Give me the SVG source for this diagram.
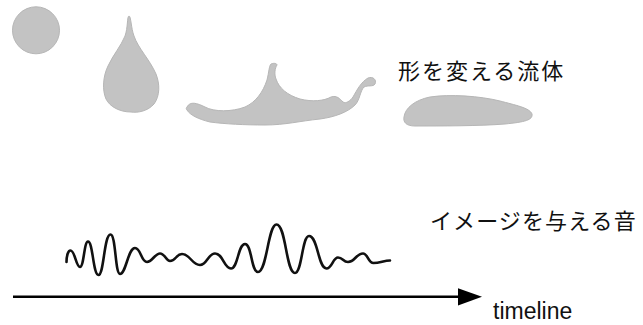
<svg xmlns="http://www.w3.org/2000/svg" width="643" height="325" viewBox="0 0 643 325">
  <style>
    .fluid { fill: #c3c3c3; stroke: #b6b6b6; stroke-width: 1; stroke-linejoin: round; }
    .jp { font-family: "Noto Sans CJK JP", "Noto Sans CJK SC", sans-serif; font-size: 22px; fill: #111; }
    .lbl { font-family: "Liberation Sans", Arial, sans-serif; font-size: 23px; fill: #111; }
    .wave { fill: none; stroke: #111; stroke-width: 2.6; stroke-linecap: round; stroke-linejoin: round; }
    .axis { stroke: #000; stroke-width: 2.5; fill: none; }
  </style>

  <!-- droplet stages of the fluid -->
  <g id="sphere">
    <circle class="fluid" cx="36" cy="30.3" r="23.5"/>
  </g>
  <g id="teardrop">
    <path class="fluid" d="M129,16 C131,16 131,28 134,36 C138,48 150,60 156,74 C160,84 160,96 154,104 C148,111 138,113 131,112 C120,112 110,107 106,99 C102,90 103,76 108,66 C113,55 121,46 125,36 C128,28 127,16 129,16 Z"/>
  </g>
  <g id="splash">
    <path class="fluid" d="M187,107 C190,101 197,103 205,107 C214,112 232,112 245,107 C256,102 263,92 267,80 C269,72 269,66 271,64 C273,63 277,63 277,65 C275,68 274,74 276,79 C279,88 287,95 300,99 C312,102 324,101 331,97 C337,95 340,99 343,102 C346,104 350,101 353,97 C357,90 361,82 368,78 C373,76 377,80 375,84 C373,87 368,85 364,87 C360,91 360,100 355,105 C348,112 335,117 320,119 C300,121 285,125 265,125 C245,125 225,124 210,122 C198,119 190,115 187,110 C186,109 186,108 187,107 Z"/>
  </g>
  <g id="puddle">
    <path class="fluid" d="M404,117 C405,108 415,100 430,97 C450,94 480,96 500,101 C515,105 530,108 532,114 C533,120 525,122 505,124 C480,126 440,126 415,126 C406,126 403,122 404,117 Z"/>
  </g>
  <g id="fluid-label">
    <text class="jp" x="398" y="78.5" letter-spacing="2">形を変える流体</text>
  </g>

  <!-- sound waveform -->
  <g id="waveform">
    <path class="wave" d="M66.5,262 C66.5,256 68,250.5 70.5,250.5 C75,250.5 76,267 80,267 C84,267 84,241.5 88,241.5 C93,241.5 93,275 98.5,275 C104,275 104,234.5 110.5,234.5 C116,234.5 115,274 120,274 C126,274 128,248 135,248 C141,248 141,262 147,262 C152,262 155,253.5 160,253.5 C165,253.5 166,261 170,261 C176,261 176,254 182,254 C190,254 192,265 200,265 C207,265 208,253.5 215,253.5 C223,253.5 224,268.5 231,268.5 C238,268.5 238,244 245,244 C252,244 251,272 258,272 C267,272 268,224.5 276.5,224.5 C286,224.5 286,273 295,273 C302,273 302,236 309,236 C318,236 318,268.5 326.5,268.5 C332,268.5 333,257.5 338,257.5 C343,257.5 343,262 348,262 C355,262 356,253.5 363,253.5 C368,253.5 368,263 373.5,263 C380,263 384,260.5 390,260.5"/>
  </g>
  <g id="sound-label">
    <text class="jp" x="430" y="229" letter-spacing="1.1">イメージを与える音</text>
  </g>

  <!-- time axis -->
  <g id="connectors">
    <line class="axis" x1="13" y1="296.8" x2="460" y2="296.8"/>
    <polygon points="458,288.3 482,296.8 458,305.5" fill="#000"/>
  </g>
  <g id="timeline-label">
    <text class="lbl" x="493" y="319">timeline</text>
  </g>
</svg>
